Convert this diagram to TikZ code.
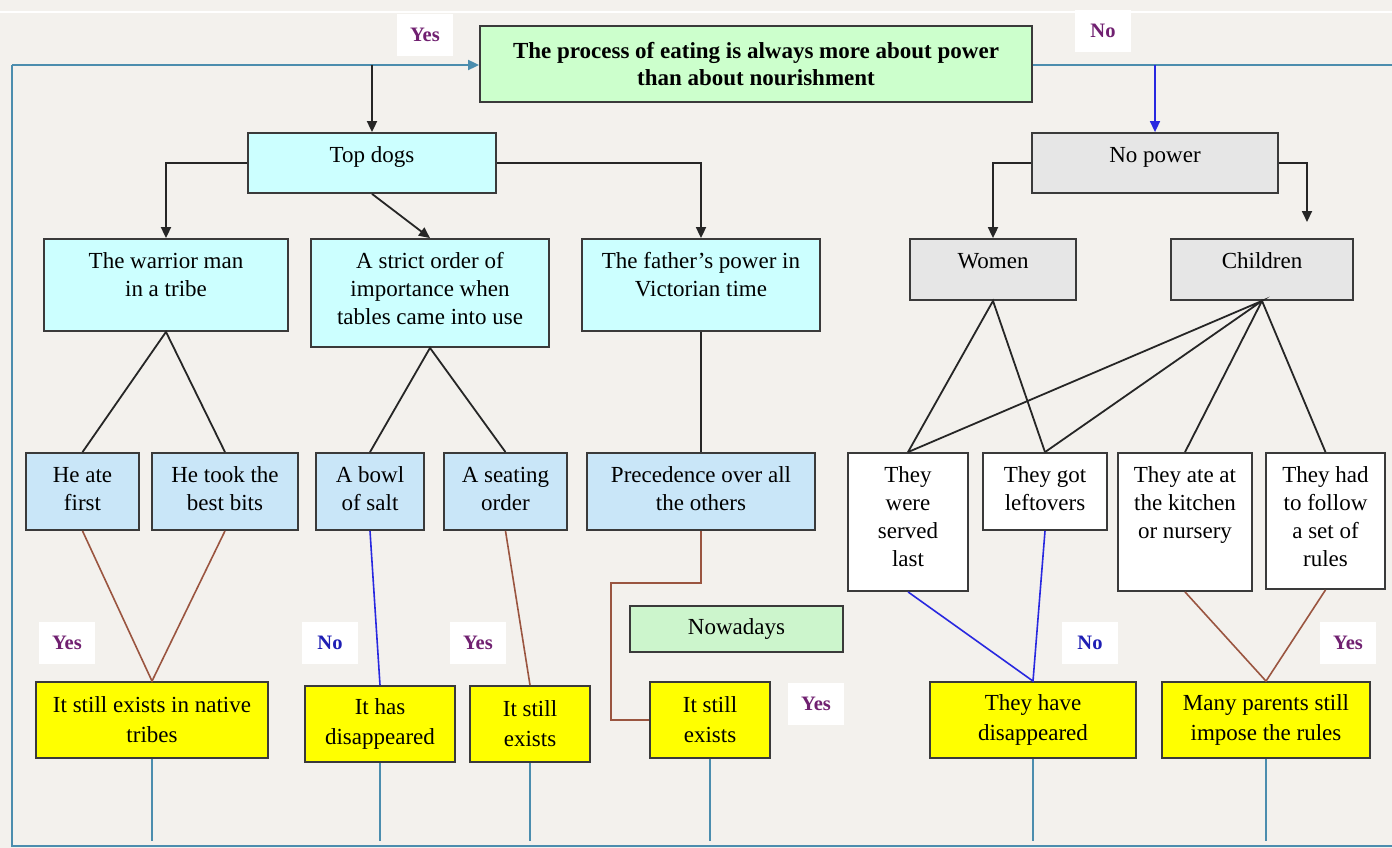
\documentclass[tikz,border=0pt]{standalone}
\usepackage{fontspec}
\setmainfont{Liberation Serif}
\usetikzlibrary{arrows.meta}
\definecolor{bg}{HTML}{F3F1ED}
\definecolor{cyanf}{HTML}{CCFFFF}
\definecolor{lbluef}{HTML}{C9E6F8}
\definecolor{grayf}{HTML}{E6E6E6}
\definecolor{yelf}{HTML}{FFFF00}
\definecolor{greenf}{HTML}{CCFFCC}
\definecolor{greenn}{HTML}{CCF5CC}
\definecolor{bord}{HTML}{3A3A3A}
\definecolor{fbc}{HTML}{4B8DAE}
\definecolor{brownc}{HTML}{9A5540}
\definecolor{bluec}{HTML}{2828E0}
\definecolor{yescol}{HTML}{702070}
\definecolor{nocol}{HTML}{1E1EB4}
\tikzset{
  box/.style={draw=bord, line width=1.8pt, inner sep=0pt, font=\fontsize{23}{28}\selectfont},
  cyanbox/.style={box, fill=cyanf},
  lbbox/.style={box, fill=lbluef},
  graybox/.style={box, fill=grayf},
  whitebox/.style={box, fill=white},
  yelbox/.style={box, fill=yelf, font=\fontsize{23}{30}\selectfont},
  greenbox/.style={box, fill=greenf},
  lab/.style={fill=white, inner sep=0pt, minimum width=56, minimum height=42, font=\fontsize{20.5}{24}\selectfont\bfseries},
  blk/.style={draw=black!85, line width=1.8pt},
  arr/.style={-{Triangle[length=11pt,width=10pt]}},
  brn/.style={draw=brownc, line width=1.6pt},
  blu/.style={draw=bluec, line width=1.6pt},
  fb/.style={draw=fbc, line width=1.8pt},
}
% name, style, x1, y1, x2, y2, text  (top aligned text)
\newcommand\tbox[7]{\node[#2, minimum width={#5-#3}, minimum height={#6-#4}] (#1) at ({(#3+#5)/2},{(#4+#6)/2}) {\parbox[c][\dimexpr#6pt-#4pt-20pt\relax][t]{\dimexpr#5pt-#3pt-8pt\relax}{\centering\strut #7}};}
% centered text
\newcommand\cbox[7]{\node[#2, minimum width={#5-#3}, minimum height={#6-#4}, align=center] (#1) at ({(#3+#5)/2},{(#4+#6)/2}) {#7};}
\begin{document}
\begin{tikzpicture}[x=1pt,y=-1pt]
\fill[bg] (0,0) rectangle (1392,848);
\useasboundingbox (0,0) rectangle (1392,848);
\draw[white, line width=1.5pt] (0,12) -- (1392,12);

% main
\cbox{main}{greenbox, font=\fontsize{23}{27}\selectfont\bfseries}{480}{26}{1032}{102}{The process of eating is always more about power\\than about nourishment}

% level 1
\tbox{td}{cyanbox}{248}{133}{496}{193}{Top dogs}
\tbox{np}{graybox}{1032}{133}{1278}{193}{No power}

% level 2
\tbox{wm}{cyanbox}{44}{239}{288}{331}{The warrior man\\in a tribe}
\tbox{so}{cyanbox}{311}{239}{549}{347}{A strict order of\\importance when\\tables came into use}
\tbox{fp}{cyanbox}{582}{239}{820}{331}{The father’s power in\\Victorian time}
\tbox{wo}{graybox}{910}{239}{1076}{300}{Women}
\tbox{chl}{graybox}{1171}{239}{1353}{300}{Children}

% level 3
\tbox{he}{lbbox}{26}{453}{139}{530}{He ate\\first}
\tbox{hb}{lbbox}{152}{453}{298}{530}{He took the\\best bits}
\tbox{bs}{lbbox}{316}{453}{424}{530}{A bowl\\of salt}
\tbox{sc}{lbbox}{444}{453}{567}{530}{A seating\\order}
\tbox{pr}{lbbox}{587}{453}{815}{530}{Precedence over all\\the others}
\tbox{sl}{whitebox}{848}{453}{968}{591}{They\\were\\served\\last}
\tbox{lo}{whitebox}{983}{453}{1107}{530}{They got\\leftovers}
\tbox{kt}{whitebox}{1118}{453}{1252}{591}{They ate at\\the kitchen\\or nursery}
\tbox{ru}{whitebox}{1266}{453}{1385}{589}{They had\\to follow\\a set of\\rules}

% nowadays
\cbox{nw}{box, fill=greenn}{630}{606}{843}{652}{Nowadays}

% results
\cbox{nt}{yelbox}{36}{682}{268}{758}{It still exists in native\\tribes}
\cbox{hd}{yelbox}{305}{686}{455}{762}{It has\\disappeared}
\cbox{se}{yelbox}{470}{686}{590}{762}{It still\\exists}
\cbox{se2}{yelbox}{650}{682}{770}{758}{It still\\exists}
\cbox{thd}{yelbox}{930}{682}{1136}{758}{They have\\disappeared}
\cbox{mp}{yelbox}{1162}{682}{1370}{758}{Many parents still\\impose the rules}

% labels
\node[lab, text=yescol] (y0) at (425,35) {Yes};
\node[lab, text=yescol] (n0) at (1103,31) {No};
\node[lab, text=yescol] (y1) at (67,643) {Yes};
\node[lab, text=nocol] (n1) at (330,643) {No};
\node[lab, text=yescol] (y2) at (478,643) {Yes};
\node[lab, text=yescol] (y3) at (816,704) {Yes};
\node[lab, text=nocol] (n2) at (1090,643) {No};
\node[lab, text=yescol] (y4) at (1348,643) {Yes};

% coordinates
\coordinate (tl) at (12,65);
\coordinate (bl) at (12,846);
\coordinate (br) at (1392,846);
\coordinate (tr) at (1392,65);
\coordinate (j1) at (372,65);
\coordinate (j2) at (1155,65);
\coordinate (cha) at (1307,222);
\coordinate (k1) at (611,583);
\coordinate (fbe) at (0,841);

% feedback loop
\draw[fb] (br) -- (bl) -- (tl);
\draw[fb, arr] (tl) -- (main.west |- tl);
\draw[fb] (main.east |- tr) -- (tr);
\foreach \n in {nt,hd,se,se2,thd,mp}{\draw[fb, line width=1.6pt] (\n.south) -- (\n.south |- fbe);}

% top arrows
\draw[blk, arr] (j1) -- (td.north);
\draw[blu, arr] (j2) -- (np.north);
\draw[blk, arr] (td.west) -| (wm.north);
\draw[blk, arr] (td.south) -- (so.north);
\draw[blk, arr] (td.east) -| (fp.north);
\draw[blk, arr] (np.west) -| (wo.north);
\draw[blk, arr] (np.east) -| (cha);

% tree lines
\draw[blk] (he.north) -- (wm.south) -- (hb.north);
\draw[blk] (bs.north) -- (so.south) -- (sc.north);
\draw[blk] (fp.south) -- (pr.north);
\draw[blk] (sl.north) -- (wo.south) -- (lo.north);
\draw[blk] (sl.north) -- (chl.south) -- (lo.north);
\draw[blk] (kt.north) -- (chl.south) -- (ru.north);

% results lines
\draw[brn] (he.south) -- (nt.north) -- (hb.south);
\draw[blu] (bs.south) -- (hd.north);
\draw[brn] (sc.south) -- (se.north);
\draw[brn] (pr.south) |- (k1) |- (se2.west);
\draw[blu] (sl.south) -- (thd.north) -- (lo.south);
\draw[brn] (kt.south) -- (mp.north) -- (ru.south);
\end{tikzpicture}
\end{document}
